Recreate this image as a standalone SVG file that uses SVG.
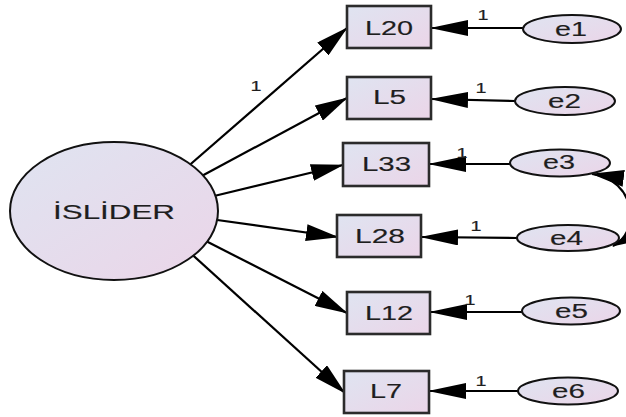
<svg xmlns="http://www.w3.org/2000/svg" width="626" height="417" viewBox="0 0 626 417">
  <defs>
    <linearGradient id="fillGrad" x1="0" y1="0" x2="1" y2="1">
      <stop offset="0" stop-color="#dfe4f1"/>
      <stop offset="1" stop-color="#ebd5e8"/>
    </linearGradient>
    <marker id="head" markerUnits="userSpaceOnUse" markerWidth="38" markerHeight="16" viewBox="0 0 38 16" refX="37" refY="8" orient="auto">
      <path d="M0,0 L38,8 L0,16 z" fill="#000"/>
    </marker>
    <marker id="headD" markerUnits="userSpaceOnUse" markerWidth="33" markerHeight="17" viewBox="0 0 33 17" refX="32" refY="8.5" orient="auto-start-reverse">
      <path d="M0,0 L33,8.5 L0,17 z" fill="#000"/>
    </marker>
    <style>
      .line { fill: none; stroke: #000; stroke-width: 2.2; }
      .path { marker-end: url(#head); }
      .load { marker-end: url(#headD); }
      .box { fill: url(#fillGrad); stroke: #2b2b2b; stroke-width: 2.6; }
      .oval { fill: url(#fillGrad); stroke: #111; stroke-width: 2; }
      .lbl { font-family: "Liberation Sans", Arial, sans-serif; fill: #1e1e1e; stroke: #1e1e1e; stroke-width: 0.15; text-anchor: middle; }
      .big { font-size: 20px; }
      .mid { font-size: 20px; }
      .small { font-size: 15px; stroke-width: 0.2; }
    </style>
  </defs>

  <!-- connectors drawn first so node fills sit on top -->
  <g id="connectors">
    <!-- factor loadings -->
    <line class="line load" x1="185" y1="169" x2="347" y2="28"/>
    <line class="line load" x1="198" y1="178" x2="347" y2="98"/>
    <line class="line load" x1="210" y1="197" x2="343" y2="165"/>
    <line class="line load" x1="210" y1="219" x2="338" y2="237"/>
    <line class="line load" x1="200" y1="238" x2="347" y2="313"/>
    <line class="line load" x1="186" y1="249" x2="345" y2="393"/>
    <text class="lbl small" x="256" y="91" textLength="11" lengthAdjust="spacingAndGlyphs">1</text>

    <!-- error terms -->
    <line class="line path" x1="523" y1="28" x2="431" y2="28"/>
    <line class="line path" x1="515" y1="101" x2="431" y2="99"/>
    <line class="line path" x1="510" y1="164" x2="429" y2="164"/>
    <line class="line path" x1="517" y1="238" x2="421" y2="237"/>
    <line class="line path" x1="522" y1="312" x2="430" y2="312"/>
    <line class="line path" x1="519" y1="391" x2="429" y2="391"/>
    <text class="lbl small" x="483" y="20" textLength="11" lengthAdjust="spacingAndGlyphs">1</text>
    <text class="lbl small" x="481" y="93" textLength="11" lengthAdjust="spacingAndGlyphs">1</text>
    <text class="lbl small" x="462" y="158" textLength="11" lengthAdjust="spacingAndGlyphs">1</text>
    <text class="lbl small" x="476" y="231" textLength="11" lengthAdjust="spacingAndGlyphs">1</text>
    <text class="lbl small" x="470" y="305" textLength="11" lengthAdjust="spacingAndGlyphs">1</text>
    <text class="lbl small" x="481" y="386" textLength="11" lengthAdjust="spacingAndGlyphs">1</text>

    <!-- covariance e3 - e4 -->
    <path class="line" d="M592,174 C636,180 641,232 613,246" marker-start="url(#headD)" marker-end="url(#headD)"/>
  </g>

  <!-- latent factor -->
  <g id="islider">
    <ellipse class="oval" cx="114" cy="211" rx="104" ry="69"/>
    <text class="lbl big" x="114" y="219" textLength="122" lengthAdjust="spacingAndGlyphs">İSLİDER</text>
  </g>

  <!-- observed indicators -->
  <g id="L20">
    <rect class="box" x="347" y="6" width="84" height="42"/>
    <text class="lbl mid" x="389" y="35" textLength="48" lengthAdjust="spacingAndGlyphs">L20</text>
  </g>
  <g id="L5">
    <rect class="box" x="347" y="77" width="84" height="42"/>
    <text class="lbl mid" x="389.5" y="104" textLength="33" lengthAdjust="spacingAndGlyphs">L5</text>
  </g>
  <g id="L33">
    <rect class="box" x="343" y="143" width="86" height="43"/>
    <text class="lbl mid" x="386.5" y="171" textLength="49" lengthAdjust="spacingAndGlyphs">L33</text>
  </g>
  <g id="L28">
    <rect class="box" x="337" y="215" width="84" height="42"/>
    <text class="lbl mid" x="380" y="243" textLength="50" lengthAdjust="spacingAndGlyphs">L28</text>
  </g>
  <g id="L12">
    <rect class="box" x="347" y="292" width="83" height="42"/>
    <text class="lbl mid" x="389" y="320" textLength="48" lengthAdjust="spacingAndGlyphs">L12</text>
  </g>
  <g id="L7">
    <rect class="box" x="344" y="371" width="85" height="42"/>
    <text class="lbl mid" x="386" y="398" textLength="32" lengthAdjust="spacingAndGlyphs">L7</text>
  </g>

  <!-- error terms -->
  <g id="e1">
    <ellipse class="oval" cx="572" cy="29" rx="49" ry="14"/>
    <text class="lbl mid" x="571" y="36" textLength="32" lengthAdjust="spacingAndGlyphs">e1</text>
  </g>
  <g id="e2">
    <ellipse class="oval" cx="565" cy="101" rx="50" ry="14"/>
    <text class="lbl mid" x="564.5" y="108" textLength="33" lengthAdjust="spacingAndGlyphs">e2</text>
  </g>
  <g id="e3">
    <ellipse class="oval" cx="560" cy="163" rx="50" ry="13.5"/>
    <text class="lbl mid" x="559" y="169" textLength="32" lengthAdjust="spacingAndGlyphs">e3</text>
  </g>
  <g id="e4">
    <ellipse class="oval" cx="568" cy="238" rx="51" ry="13"/>
    <text class="lbl mid" x="566.5" y="245" textLength="33" lengthAdjust="spacingAndGlyphs">e4</text>
  </g>
  <g id="e5">
    <ellipse class="oval" cx="571" cy="311" rx="49" ry="13.5"/>
    <text class="lbl mid" x="571.5" y="318" textLength="33" lengthAdjust="spacingAndGlyphs">e5</text>
  </g>
  <g id="e6">
    <ellipse class="oval" cx="568" cy="391" rx="50" ry="13.5"/>
    <text class="lbl mid" x="568.5" y="398" textLength="33" lengthAdjust="spacingAndGlyphs">e6</text>
  </g>
</svg>
